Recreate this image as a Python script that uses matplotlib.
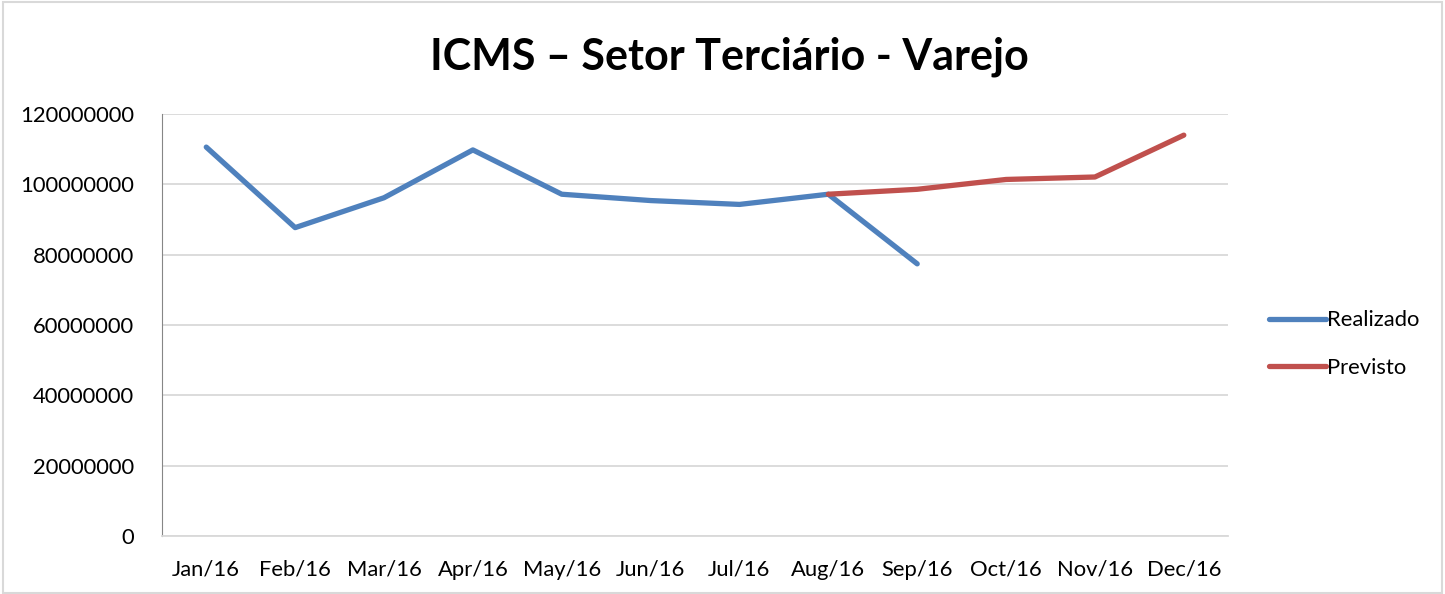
import numpy as np
import matplotlib.pyplot as plt

plt.rcParams['font.family'] = ['Lato', 'DejaVu Sans']

meses = ['Jan/16', 'Feb/16', 'Mar/16', 'Apr/16', 'May/16', 'Jun/16',
         'Jul/16', 'Aug/16', 'Sep/16', 'Oct/16', 'Nov/16', 'Dec/16']
realizado = [110.6e6, 87.7e6, 96.2e6, 109.8e6, 97.2e6, 95.4e6,
             94.3e6, 97.2e6, 77.4e6]
previsto_meses = ['Aug/16', 'Sep/16', 'Oct/16', 'Nov/16', 'Dec/16']
previsto = [97.2e6, 98.6e6, 101.4e6, 102.1e6, 114.0e6]

fig = plt.figure(figsize=(14.45, 5.94), dpi=100)
ax = fig.add_axes([0.112, 0.0976, 0.738, 0.7104])

x = np.arange(len(meses))
x_prev = [meses.index(m) for m in previsto_meses]

ax.plot(x[:len(realizado)], realizado, color='#4F81BD', lw=3.8,
        solid_capstyle='round', solid_joinstyle='round', label='Realizado')
ax.plot(x_prev, previsto, color='#C0504D', lw=3.8,
        solid_capstyle='round', solid_joinstyle='round', label='Previsto')

ax.set_xlim(-0.5, len(meses) - 0.5)
ax.set_ylim(0, 120e6)
ax.set_yticks(np.arange(0, 120e6 + 1, 20e6))
ax.set_yticklabels([f'{int(v)}' for v in np.arange(0, 120e6 + 1, 20e6)])
ax.set_xticks(x)
ax.set_xticklabels(meses)
ax.tick_params(length=0, labelsize=15.8, pad=17)
ax.tick_params(axis='y', pad=20)

ax.grid(axis='y', color='#d9d9d9', lw=1.3)
ax.set_axisbelow(True)
for s in ['top', 'right']:
    ax.spines[s].set_visible(False)
ax.spines['left'].set_color('#868686')
ax.spines['bottom'].set_color('#d9d9d9')
ax.spines['bottom'].set_linewidth(1.3)

fig.text(0.505, 0.905, 'ICMS – Setor Terciário - Varejo', ha='center',
         va='center', fontsize=31, fontweight='bold')

ax.legend(loc='center left', bbox_to_anchor=(1.02, 0.455), frameon=False,
          fontsize=15.8, handlelength=2.6, handletextpad=0.05,
          labelspacing=1.25)

fig.patches.append(plt.Rectangle((0.002, 0.002), 0.996, 0.994,
                                 transform=fig.transFigure, fill=False,
                                 edgecolor='#d9d9d9', lw=1.5))

fig.savefig('out.png', dpi=100)
